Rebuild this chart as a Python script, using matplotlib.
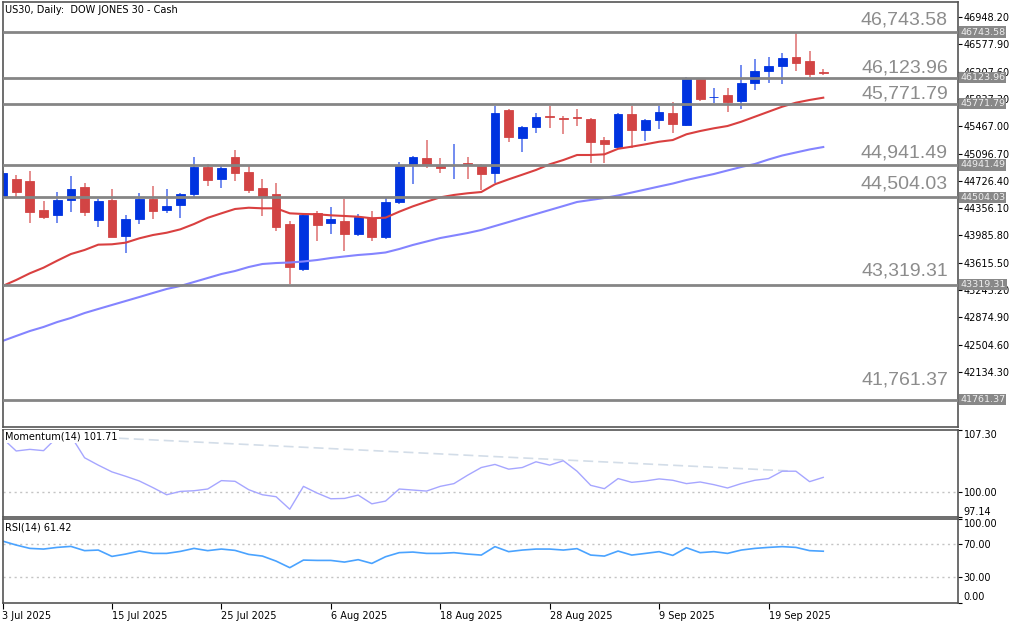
import numpy as np
import matplotlib.pyplot as plt

W, H = 1024, 623

title = "US30, Daily:  DOW JONES 30 - Cash"

opens = [44521, 44747, 44724, 44331, 44267, 44463, 44643, 44196, 44463, 43979,
         44209, 44484, 44335, 44403, 44544, 44918, 44751, 45054, 44850, 44625,
         44548, 44141, 43527, 44286, 44151, 44182, 44002, 44227, 43969, 44444,
         44955, 45032, 44928, 44935, 44964, 44928, 44829, 45687, 45311, 45461,
         45606, 45575, 45596, 45561, 45280, 45179, 45629, 45416, 45552, 45651,
         45480, 46103, 45859, 45891, 45809, 46057, 46220, 46288, 46402, 46356,
         46206]
highs = [44860, 44806, 44864, 44457, 44575, 44796, 44701, 44476, 44612, 44263,
         44566, 44657, 44612, 44558, 45046, 44955, 44928, 45145, 44928, 44747,
         44701, 44186, 44286, 44318, 44368, 44480, 44277, 44318, 44490, 44978,
         45063, 45280, 45032, 45222, 45054, 44955, 45745, 45701, 45470, 45642,
         45745, 45610, 45697, 45575, 45325, 45651, 45741, 45560, 45741, 45800,
         46139, 46110, 45990, 45981, 46297, 46375, 46402, 46456, 46743.58, 46487,
         46239]
lows = [44494, 44511, 44151, 44205, 44159, 44300, 44254, 44097, 43960, 43744,
        44141, 44209, 44286, 44219, 44511, 44657, 44625, 44724, 44566, 44254,
        44046, 43328, 43508, 43911, 44002, 43779, 43979, 43915, 43934, 44413,
        44684, 44897, 44829, 44751, 44751, 44602, 44693, 45257, 45114, 45379,
        45439, 45362, 45474, 44964, 44973, 45154, 45176, 45271, 45425, 45379,
        45470, 45813, 45778, 45664, 45697, 45958, 46057, 46040, 46220, 46139,
        46162]
closes = [44829, 44571, 44304, 44240, 44467, 44612, 44304, 44449, 43965, 44205,
          44484, 44314, 44389, 44544, 44910, 44738, 44897, 44837, 44602, 44511,
          44105, 43563, 44263, 44128, 44209, 44002, 44240, 43969, 44444, 44932,
          45046, 44955, 44905, 44945, 44955, 44815, 45651, 45325, 45461, 45588,
          45596, 45561, 45575, 45257, 45222, 45629, 45416, 45552, 45664, 45493,
          46117, 45836, 45868, 45800, 46057, 46220, 46288, 46388, 46329, 46175,
          46193]

ma_fast = [43300, 43382, 43473, 43549, 43644, 43734, 43789, 43861, 43866, 43888,
           43947, 43992, 44023, 44069, 44141, 44225, 44286, 44345, 44362, 44354,
           44354, 44286, 44277, 44273, 44259, 44250, 44240, 44219, 44227, 44308,
           44381, 44444, 44503, 44535, 44558, 44575, 44680, 44747, 44810, 44874,
           44951, 45009, 45077, 45077, 45086, 45161, 45190, 45222, 45257, 45280,
           45358, 45402, 45439, 45470, 45528, 45596, 45664, 45732, 45786, 45823,
           45854]
ma_slow = [42555, 42623, 42690, 42745, 42812, 42867, 42934, 42989, 43043, 43097,
           43151, 43206, 43260, 43301, 43355, 43409, 43463, 43504, 43558, 43599,
           43612, 43619, 43633, 43653, 43680, 43701, 43721, 43735, 43755, 43802,
           43857, 43904, 43951, 43985, 44019, 44060, 44114, 44168, 44223, 44277,
           44331, 44385, 44440, 44467, 44494, 44528, 44568, 44609, 44650, 44690,
           44738, 44779, 44819, 44867, 44914, 44955, 45016, 45070, 45111, 45152,
           45185]

momentum = [106.28, 104.79, 104.98, 104.83, 106.40, 106.55, 104.00, 103.14, 102.35, 101.84,
            101.29, 100.51, 99.68, 100.07, 100.15, 100.35, 101.33, 101.25, 100.27, 99.68,
            99.45, 97.99, 100.66, 99.88, 99.21, 99.25, 99.64, 98.62, 98.94, 100.35,
            100.23, 100.11, 100.66, 100.98, 101.96, 102.86, 103.22, 102.67, 102.86, 103.53,
            103.14, 103.65, 102.43, 100.78, 100.39, 101.57, 101.13, 101.29, 101.53, 101.37,
            100.98, 101.17, 100.86, 100.47, 100.98, 101.37, 101.57, 102.43, 102.43, 101.21,
            101.71]
rsi = [73.6, 68.8, 64.8, 64.0, 66.0, 67.2, 62.1, 62.8, 55.2, 58.0,
       61.6, 58.8, 58.8, 61.2, 64.8, 62.1, 64.0, 62.4, 57.6, 55.6,
       49.6, 41.7, 50.8, 50.4, 50.4, 48.4, 51.3, 46.8, 54.8, 59.7,
       60.4, 58.8, 58.8, 59.7, 58.0, 56.8, 66.9, 60.9, 62.8, 64.0,
       64.0, 62.8, 64.5, 56.8, 55.6, 61.6, 56.8, 58.8, 60.9, 56.4,
       65.6, 59.7, 60.9, 58.8, 62.8, 64.8, 66.0, 66.9, 66.0, 62.1,
       61.42]

# momentum trendline (bar index, value)
mom_trend_x = [8.5, 57.4]
mom_trend_y = [106.28, 102.47]

levels = [46743.58, 46123.96, 45771.79, 44941.49, 44504.03, 43319.31, 41761.37]
level_dy = [12, 10, 10, 12, 13, 14, 20]   # px above line for big labels

price_ticks = [46948.20, 46577.90, 46207.60, 45837.30, 45467.00, 45096.70, 44726.40,
               44356.10, 43985.80, 43615.50, 43245.20, 42874.90, 42504.60, 42134.30]
mom_ticks = [107.30, 100.00, 97.14]
rsi_ticks = [100.00, 70.00, 30.00, 0.00]

date_pos = [0, 8, 16, 24, 32, 40, 48, 56]
date_labels = ["3 Jul 2025", "15 Jul 2025", "25 Jul 2025", "6 Aug 2025",
               "18 Aug 2025", "28 Aug 2025", "9 Sep 2025", "19 Sep 2025"]

BULL = "#0033e0"
BEAR = "#d24444"
SPINE = "#555555"


def px_axes(x0, y0, x1, y1):
    return [x0 / W, 1 - y1 / H, (x1 - x0) / W, (y1 - y0) / H]


fig = plt.figure(figsize=(W / 100, H / 100), dpi=100)
fig.patch.set_facecolor("white")

ax = fig.add_axes(px_axes(2.5, 2, 958, 427))
ax_m = fig.add_axes(px_axes(2.5, 429.5, 958, 516.5), sharex=ax)
ax_r = fig.add_axes(px_axes(2.5, 519, 958, 602.5), sharex=ax)

x = np.arange(len(opens))
o = np.array(opens, dtype=float)
c = np.array(closes, dtype=float)
cols = [BULL if cc >= oo else BEAR for oo, cc in zip(o, c)]
wick_cols = ["#5a78ee" if cc >= oo else "#e07a7a" for oo, cc in zip(o, c)]

# candles
ax.vlines(x, lows, highs, colors=wick_cols, lw=1.2, zorder=2)
ax.bar(x, np.abs(c - o), bottom=np.minimum(o, c), width=0.64,
       color=cols, edgecolor=cols, lw=0.6, zorder=2.2)

ax.plot(x, ma_fast, color="#d94040", lw=1.5, zorder=2.4)
ax.plot(x, ma_slow, color="#8484ff", lw=1.5, zorder=2.4)

for lv, dy in zip(levels, level_dy):
    ax.axhline(lv, color="#858585", lw=2.0, zorder=3)
    ax.annotate(f"{lv:,.2f}", xy=(0.9895, lv), xycoords=("axes fraction", "data"),
                xytext=(0, dy * 0.72), textcoords="offset points",
                ha="right", va="center", fontsize=14, color="#8c8c8c",
                family="Liberation Sans", zorder=4)
    ax.annotate(f"{lv:.2f}", xy=(1, lv), xycoords=("axes fraction", "data"),
                xytext=(1.5, 0), textcoords="offset points",
                ha="left", va="center", fontsize=6.8, color="#eeeeee",
                bbox=dict(boxstyle="square,pad=0.12", fc="#888888", ec="none"),
                annotation_clip=False, zorder=5)

ax.set_ylim(41388.6, 47151.6)
ax.set_xlim(0.03, 69.85)
ax.set_yticks(price_ticks)
ax.set_yticklabels([f"{t:.2f}" for t in price_ticks])

# momentum
ax_m.plot(mom_trend_x, mom_trend_y, color="#d3dde8", lw=1.2, ls=(0, (6, 3)), zorder=1)
ax_m.axhline(100, color="#c4c4c4", lw=1, ls=(0, (1.5, 2.5)), zorder=1)
ax_m.plot(x, momentum, color="#a6a6ff", lw=1.0, zorder=2)
ax_m.set_ylim(97.14, 107.30)
ax_m.set_yticks(mom_ticks)
ax_m.set_yticklabels([f"{t:.2f}" for t in mom_ticks])
ax_m.text(0.003, 0.92, f"Momentum(14) {momentum[-1]:.2f}", transform=ax_m.transAxes,
          fontsize=7, va="center", ha="left", zorder=5,
          bbox=dict(boxstyle="square,pad=0.15", fc="white", ec="none"))

# rsi
ax_r.axhline(70, color="#c4c4c4", lw=1, ls=(0, (1.5, 2.5)), zorder=1)
ax_r.axhline(30, color="#c4c4c4", lw=1, ls=(0, (1.5, 2.5)), zorder=1)
ax_r.plot(x, rsi, color="#4aa3ff", lw=1.2, zorder=2)
ax_r.set_ylim(0, 100)
ax_r.set_yticks(rsi_ticks)
ax_r.set_yticklabels([f"{t:.2f}" for t in rsi_ticks])
ax_r.text(0.003, 0.90, f"RSI(14) {rsi[-1]:.2f}", transform=ax_r.transAxes,
          fontsize=7, va="center", ha="left", zorder=5)

for a in (ax, ax_m, ax_r):
    a.set_facecolor("white")
    a.yaxis.tick_right()
    a.tick_params(axis="y", direction="out", length=3, width=0.8, pad=1,
                  labelsize=7, colors="black")
    for s in a.spines.values():
        s.set_color(SPINE)
        s.set_linewidth(1.2)

for a in (ax, ax_m):
    a.tick_params(axis="x", bottom=False, labelbottom=False)

# edge labels inside the indicator panes
ml = ax_m.get_yticklabels()
ml[0].set_va("top")
ml[-1].set_va("bottom")
rl = ax_r.get_yticklabels()
rl[0].set_va("top")
rl[-1].set_va("bottom")

ax_r.set_xticks(date_pos)
ax_r.set_xticklabels(date_labels, ha="left")
ax_r.tick_params(axis="x", direction="out", length=4, width=0.8, pad=2,
                 labelsize=7, colors="black")

fig.text(5 / W, 1 - 10 / H, title, fontsize=7, va="center", ha="left")

fig.savefig("out.png", dpi=100)
